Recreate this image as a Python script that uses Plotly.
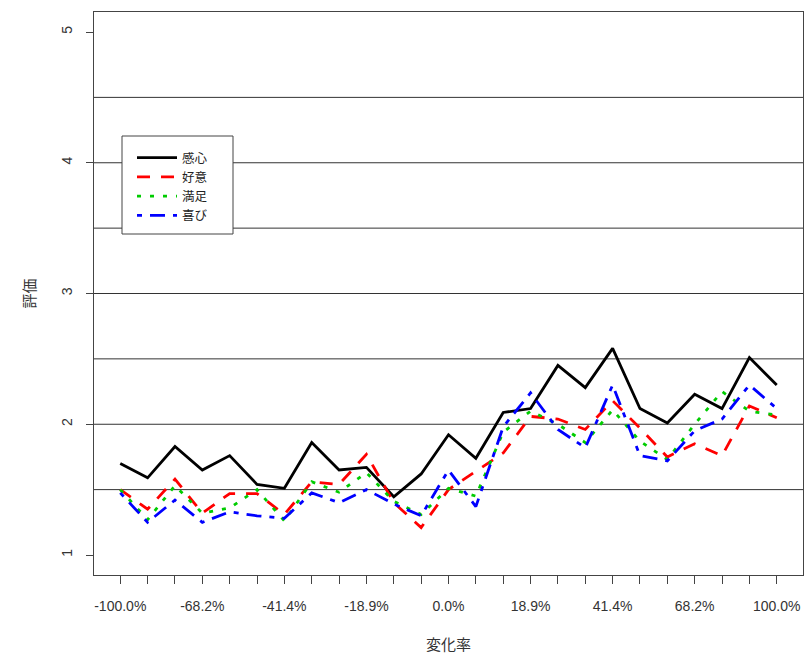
import plotly.graph_objects as go

# x categories (25 change-rate steps); only every third label is printed
x_idx = list(range(25))
x_labels = ["-100.0%", "", "", "-68.2%", "", "", "-41.4%", "", "", "-18.9%", "", "",
            "0.0%", "", "", "18.9%", "", "", "41.4%", "", "", "68.2%", "", "", "100.0%"]

kanshin = [1.70, 1.59, 1.83, 1.65, 1.76, 1.54, 1.51, 1.86, 1.65, 1.67, 1.445, 1.62, 1.92,
           1.74, 2.09, 2.12, 2.45, 2.28, 2.58, 2.12, 2.01, 2.23, 2.12, 2.51, 2.30]
koui = [1.50, 1.35, 1.58, 1.32, 1.47, 1.47, 1.31, 1.56, 1.54, 1.77, 1.40, 1.21, 1.50,
        1.64, 1.78, 2.06, 2.04, 1.96, 2.18, 1.97, 1.75, 1.85, 1.76, 2.14, 2.05]
manzoku = [1.50, 1.27, 1.53, 1.32, 1.36, 1.50, 1.26, 1.56, 1.48, 1.63, 1.41, 1.31, 1.51,
           1.45, 1.94, 2.10, 2.00, 1.86, 2.11, 1.87, 1.73, 2.00, 2.25, 2.10, 2.07]
yorokobi = [1.475, 1.25, 1.42, 1.25, 1.33, 1.30, 1.28, 1.475, 1.40, 1.50, 1.39, 1.30, 1.65,
            1.37, 1.98, 2.24, 1.96, 1.82, 2.30, 1.76, 1.72, 1.95, 2.04, 2.30, 2.12]

y_ticks = [1, 2, 3, 4, 5]
grid_levels = [1.5, 2, 2.5, 3, 3.5, 4, 4.5]

series = [
    ("感心", kanshin, "black", "solid"),
    ("好意", koui, "red", "13px,11px"),
    ("満足", manzoku, "#00cc00", "4px,9px"),
    ("喜び", yorokobi, "blue", "5px,8px,15px,8px"),
]

fig = go.Figure()
for name, vals, col, dash in series:
    fig.add_trace(go.Scatter(x=x_idx, y=vals, mode="lines", name=name,
                             line=dict(color=col, width=2.8, dash=dash)))

shapes = []
for g in grid_levels:
    shapes.append(dict(type="line", xref="paper", x0=0, x1=1, yref="y", y0=g, y1=g,
                       line=dict(color="#333", width=1), layer="below"))
# legend frame
shapes.append(dict(type="rect", xref="paper", yref="paper",
                   x0=(122 - 94) / 709, x1=(233 - 94) / 709,
                   y0=(575 - 234) / 563, y1=(575 - 136) / 563,
                   fillcolor="white", line=dict(color="#444", width=1), layer="above"))

tickfont = dict(family="Liberation Sans, Arial, sans-serif", size=14, color="#333")
cjk = "Noto Sans CJK JP, sans-serif"

fig.update_layout(
    width=805, height=655,
    margin=dict(l=94, r=2, t=12, b=80, autoexpand=False),
    paper_bgcolor="white", plot_bgcolor="white",
    shapes=shapes,
    showlegend=True,
    legend=dict(x=(132 - 94) / 709, y=(575 - 143) / 563, xanchor="left", yanchor="top",
                bgcolor="rgba(0,0,0,0)", borderwidth=0,
                font=dict(family=cjk, size=12.5, color="#222"),
                itemwidth=40, tracegroupgap=0),
    xaxis=dict(range=[-0.96, 24.96], tickmode="array", tickvals=x_idx, ticktext=x_labels,
               ticks="outside", ticklen=8, tickcolor="#444", showgrid=False, zeroline=False,
               showline=True, linecolor="#444", linewidth=1, mirror=True, automargin=False,
               tickfont=tickfont, tickangle=0, ticklabelstandoff=10,
               title=dict(text="変化率", font=dict(family=cjk, size=15, color="#333"), standoff=26)),
    yaxis=dict(range=[0.847, 5.153], tickmode="array", tickvals=y_ticks,
               ticks="outside", ticklen=7, tickcolor="#444", showgrid=False, zeroline=False,
               showline=True, linecolor="#444", linewidth=1, mirror=True, automargin=False,
               tickfont=tickfont, tickangle=-90, ticklabelstandoff=8,
               title=dict(text="評価", font=dict(family=cjk, size=15, color="#333"), standoff=20)),
)

fig.write_html("out.html", config={"displayModeBar": False},
               post_script="document.body.style.margin='0';")
